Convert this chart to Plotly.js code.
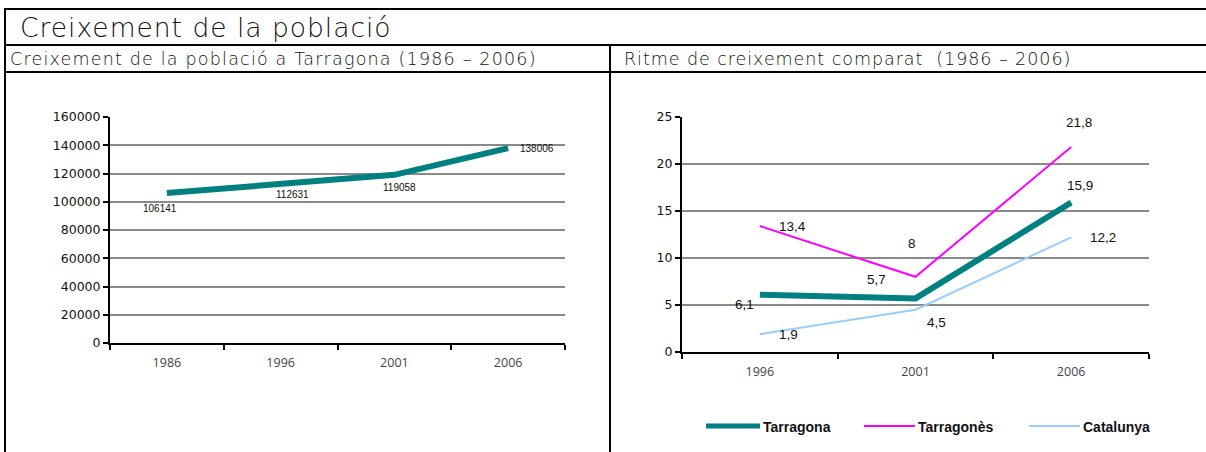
<!DOCTYPE html>
<html>
<head>
<meta charset="utf-8">
<script src="https://cdn.plot.ly/plotly-3.0.1.min.js"></script>
<style>
html,body{margin:0;padding:0;background:#fff;}
#chart{width:1206px;height:452px;}
</style>
</head>
<body>
<div id="chart"></div>
<script>
// ---- Data ----
const mainTitle = "Creixement de la població";
const leftTitle = "Creixement de la població a Tarragona (1986 – 2006)";
const rightTitle = "Ritme de creixement comparat  (1986 – 2006)";

const popYears = ["1986", "1996", "2001", "2006"];
const popValues = [106141, 112631, 119058, 138006];

const rateYears = ["1996", "2001", "2006"];
const seriesNames = ["Tarragona", "Tarragonès", "Catalunya"];
const tarragonaRate = [6.1, 5.7, 15.9];
const tarragonesRate = [13.4, 8, 21.8];
const catalunyaRate = [1.9, 4.5, 12.2];

// ---- Styling ----
const W = 1206, H = 452;
const px = v => v / W;
const py = v => 1 - v / H;
const colors = ["#008080", "#FF00FF", "#99CCFF"];
const widths = [6, 2, 2];
const labelFont = {family: "Liberation Sans, Arial, sans-serif", size: 10, color: "#111"};
const rateFont = {family: "Liberation Sans, Arial, sans-serif", size: 13.5, color: "#111"};
const titleFamily = "'DejaVu Sans', sans-serif";

const popShifts = [[-7, -15], [12, -11], [5, -13], [29, 0]];
const rateShifts = [
  [[-15, -10], [-39, 19], [9, 17]],
  [[33, 0], [-4, 33], [8, 25]],
  [[29, 0], [21, -13], [32, 0]]
];
const rateSeries = [tarragonaRate, tarragonesRate, catalunyaRate];

const traces = [];
traces.push({
  x: popYears, y: popValues, type: "scatter", mode: "lines",
  line: {color: colors[0], width: 6}, xaxis: "x", yaxis: "y",
  hoverinfo: "x+y", showlegend: false
});
rateSeries.forEach((s, i) => {
  traces.push({
    x: rateYears, y: s, type: "scatter", mode: "lines", name: seriesNames[i],
    line: {color: colors[i], width: widths[i]}, xaxis: "x2", yaxis: "y2",
    showlegend: false
  });
});

const annotations = [];
popValues.forEach((v, i) => {
  annotations.push({
    xref: "x", yref: "y", x: i, y: v, text: String(v), showarrow: false,
    xshift: popShifts[i][0], yshift: popShifts[i][1], font: labelFont
  });
});
rateSeries.forEach((s, si) => {
  s.forEach((v, i) => {
    annotations.push({
      xref: "x2", yref: "y2", x: i, y: v, text: String(v).replace(".", ","), showarrow: false,
      xshift: rateShifts[si][i][0], yshift: rateShifts[si][i][1], font: rateFont
    });
  });
});

// titles
const spaced = (t, s) => '<span style="letter-spacing:' + s + 'px">' + t + '</span>';
annotations.push({xref: "paper", yref: "paper", x: px(18), y: py(27), xanchor: "left", yanchor: "middle",
  text: spaced(mainTitle, 1.0), showarrow: false, font: {family: titleFamily, size: 26.5, color: "#111", weight: 200}});
annotations.push({xref: "paper", yref: "paper", x: px(8), y: py(59), xanchor: "left", yanchor: "middle",
  text: spaced(leftTitle, 1.2), showarrow: false, font: {family: titleFamily, size: 17.5, color: "#111", weight: 200}});
annotations.push({xref: "paper", yref: "paper", x: px(622), y: py(59), xanchor: "left", yanchor: "middle",
  text: spaced(rightTitle, 0.95), showarrow: false, font: {family: titleFamily, size: 17.5, color: "#111", weight: 200}});

// legend (custom)
const legendX = [706, 864, 1029];
const legendLen = [54, 51, 51];
const shapes = [];
seriesNames.forEach((n, i) => {
  shapes.push({type: "line", xref: "paper", yref: "paper",
    x0: px(legendX[i]), x1: px(legendX[i] + legendLen[i]), y0: py(426), y1: py(426),
    line: {color: colors[i], width: i === 0 ? 5 : 2}});
  annotations.push({xref: "paper", yref: "paper", x: px(legendX[i] + legendLen[i] + 1), y: py(427),
    xanchor: "left", yanchor: "middle", text: "<b>" + n + "</b>", showarrow: false,
    font: {family: "Liberation Sans, Arial, sans-serif", size: 14, color: "#111"}});
});

// frame
const frame = [
  [5, 9, 1206, 9], [5, 45, 1206, 45], [5, 72, 1206, 72],
  [5, 8, 5, 452], [610, 45, 610, 452]
];
frame.forEach(f => shapes.push({type: "line", xref: "paper", yref: "paper",
  x0: px(f[0]), y0: py(f[1]), x1: px(f[2]), y1: py(f[3]), line: {color: "#000", width: 2}}));

const xTickFont = {family: "'Open Sans', sans-serif", size: 12.5, color: "#444"};
const yTickFont = {family: "'DejaVu Sans', sans-serif", size: 12.5, color: "#111"};
const xCommon = {
  type: "category", showgrid: false, zeroline: false, showline: true, linecolor: "#000", linewidth: 2,
  ticks: "outside", tickson: "boundaries", ticklen: 5, tickwidth: 2, tickcolor: "#000",
  tickfont: xTickFont, ticklabelstandoff: 7, fixedrange: true
};
const yCommon = {
  showgrid: true, gridcolor: "#8a8a8a", gridwidth: 2, zeroline: false, showline: true,
  linecolor: "#000", linewidth: 2, ticks: "outside", ticklen: 5, tickwidth: 2, tickcolor: "#000",
  tickfont: yTickFont, fixedrange: true
};

const layout = {
  width: W, height: H, margin: {l: 0, r: 0, t: 0, b: 0},
  paper_bgcolor: "#fff", plot_bgcolor: "rgba(0,0,0,0)", showlegend: false,
  xaxis: Object.assign({}, xCommon, {domain: [px(110), px(565)], range: [-0.5, 3.5], anchor: "y"}),
  yaxis: Object.assign({}, yCommon, {domain: [py(343), py(117)], range: [0, 160000], dtick: 20000,
    tickformat: "d", anchor: "x"}),
  xaxis2: Object.assign({}, xCommon, {domain: [px(682), px(1149)], range: [-0.5, 2.5], anchor: "y2"}),
  yaxis2: Object.assign({}, yCommon, {domain: [py(352), py(117)], range: [0, 25], dtick: 5, anchor: "x2"}),
  annotations: annotations, shapes: shapes
};

Plotly.newPlot("chart", traces, layout, {displayModeBar: false, staticPlot: true});
</script>
</body>
</html>
